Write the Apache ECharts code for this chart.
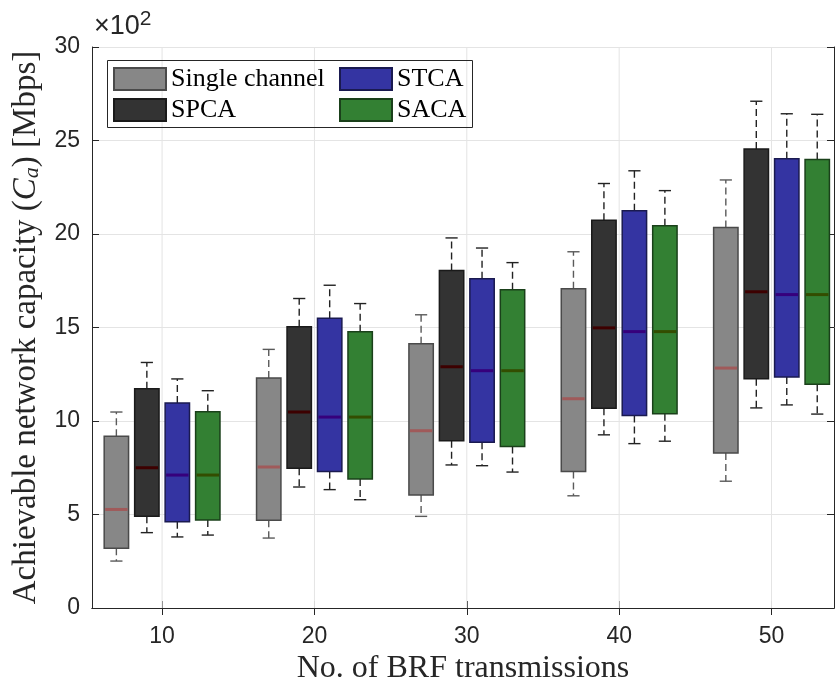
<!DOCTYPE html>
<html>
<head>
<meta charset="utf-8">
<script src="https://cdn.jsdelivr.net/npm/echarts@6/dist/echarts.min.js"></script>
<style>html,body{margin:0;padding:0;background:#fff}#c{width:835px;height:684px}</style>
</head>
<body>
<div id="c"></div>
<script>
// ---- data (values in units of 10^2 Mbps) ----
const groups = [10, 20, 30, 40, 50];
const offsets = [-3, -1, 1, 3];
const seriesNames = ['Single channel', 'SPCA', 'STCA', 'SACA'];
// each row: [lowerWhisker, Q1, median, Q3, upperWhisker]
const singleChannel = [
  [2.51, 3.19, 5.27, 9.18, 10.48],
  [3.74, 4.69, 7.54, 12.30, 13.83],
  [4.90, 6.04, 9.48, 14.13, 15.68],
  [6.00, 7.30, 11.19, 17.07, 19.05],
  [6.78, 8.29, 12.83, 20.35, 22.89]
];
const spca = [
  [4.03, 4.90, 7.50, 11.73, 13.13],
  [6.47, 7.47, 10.48, 15.04, 16.55],
  [7.65, 8.95, 12.90, 18.05, 19.79],
  [9.26, 10.68, 14.98, 20.74, 22.70],
  [10.70, 12.26, 16.91, 24.54, 27.10]
];
const stca = [
  [3.80, 4.61, 7.11, 10.96, 12.25],
  [6.33, 7.30, 10.21, 15.50, 17.26],
  [7.61, 8.86, 12.69, 17.61, 19.25],
  [8.79, 10.29, 14.78, 21.25, 23.38],
  [10.86, 12.35, 16.76, 24.03, 26.43]
];
const saca = [
  [3.90, 4.70, 7.11, 10.50, 11.62],
  [5.79, 6.90, 10.21, 14.77, 16.28],
  [7.27, 8.64, 12.69, 17.02, 18.47],
  [8.92, 10.39, 14.78, 20.44, 22.32],
  [10.37, 11.97, 16.76, 23.99, 26.40]
];
const xTicks = [10, 20, 30, 40, 50];
const yTicks = [0, 5, 10, 15, 20, 25, 30];

// ---- styling ----
const styles = [
  {fill: '#878787', stroke: '#4a4a4a', median: '#a05a5a', whisker: '#5a5a5a'},
  {fill: '#333333', stroke: '#1a1a1a', median: '#3d0000', whisker: '#222222'},
  {fill: '#3434a2', stroke: '#1a1a50', median: '#36007c', whisker: '#222222'},
  {fill: '#338033', stroke: '#1a401a', median: '#334d00', whisker: '#222222'}
];
const BOX_W = 1.6, CAP_W = 0.8;
const X_MIN = 5.4, X_MAX = 54.1, Y_MIN = 0, Y_MAX = 30;
const AXIS_COLOR = '#262626';
const GRID_COLOR = '#e4e4e4';

function buildData(rows, off) {
  return rows.map((r, i) => [groups[i] + off].concat(r));
}

function makeRender(st) {
  return function (params, api) {
    const x = api.value(0);
    const lo = api.coord([x, api.value(1)]);
    const q1 = api.coord([x, api.value(2)]);
    const md = api.coord([x, api.value(3)]);
    const q3 = api.coord([x, api.value(4)]);
    const hi = api.coord([x, api.value(5)]);
    const w = api.size([BOX_W, 0])[0];
    const cw = api.size([CAP_W, 0])[0];
    const cx = q1[0];
    const whiskStyle = {stroke: st.whisker, lineWidth: 1.4, lineDash: [7, 4]};
    const capStyle = {stroke: st.whisker, lineWidth: 1.4};
    return {
      type: 'group',
      children: [
        {type: 'line', shape: {x1: cx, y1: q3[1], x2: cx, y2: hi[1]}, style: whiskStyle},
        {type: 'line', shape: {x1: cx, y1: q1[1], x2: cx, y2: lo[1]}, style: whiskStyle},
        {type: 'line', shape: {x1: cx - cw / 2, y1: hi[1], x2: cx + cw / 2, y2: hi[1]}, style: capStyle},
        {type: 'line', shape: {x1: cx - cw / 2, y1: lo[1], x2: cx + cw / 2, y2: lo[1]}, style: capStyle},
        {type: 'rect', shape: {x: cx - w / 2, y: q3[1], width: w, height: q1[1] - q3[1]},
          style: {fill: st.fill, stroke: st.stroke, lineWidth: 1.5}},
        {type: 'line', shape: {x1: cx - w / 2 + 1, y1: md[1], x2: cx + w / 2 - 1, y2: md[1]},
          style: {stroke: st.median, lineWidth: 3}}
      ]
    };
  };
}

const allData = [singleChannel, spca, stca, saca];
const boxSeries = seriesNames.map((name, k) => ({
  name: name,
  type: 'custom',
  z: 3,
  itemStyle: {color: styles[k].fill, borderColor: styles[k].stroke, borderWidth: 1.2},
  encode: {x: 0, y: [1, 2, 3, 4, 5]},
  renderItem: makeRender(styles[k]),
  data: buildData(allData[k], offsets[k])
}));

// vertical grid lines (x axis uses a non-aligned min so draw them via a series)
const vGridSeries = {
  type: 'custom',
  silent: true,
  z: 1,
  renderItem: function (params, api) {
    const x = api.value(0);
    const a = api.coord([x, Y_MIN]);
    const b = api.coord([x, Y_MAX]);
    return {type: 'line', shape: {x1: a[0], y1: a[1], x2: b[0], y2: b[1]},
      style: {stroke: GRID_COLOR, lineWidth: 1}};
  },
  data: xTicks.map(v => [v, 0])
};

const chart = echarts.init(document.getElementById('c'), null, {renderer: 'canvas'});
const serifFont = '"Liberation Serif", "DejaVu Serif", serif';
const sansFont = '"Liberation Sans", Arial, sans-serif';

chart.setOption({
  animation: false,
  backgroundColor: '#ffffff',
  grid: {left: 92, right: 1, top: 47, bottom: 76, containLabel: false, outerBoundsMode: 'none'},
  xAxis: [{
    type: 'value', min: X_MIN, max: X_MAX,
    name: 'No. of BRF transmissions', nameLocation: 'middle', nameGap: 42,
    nameTextStyle: {fontFamily: serifFont, fontSize: 32, color: AXIS_COLOR},
    axisLine: {show: true, lineStyle: {color: AXIS_COLOR, width: 1}},
    axisTick: {show: true, inside: true, length: 7, customValues: xTicks, lineStyle: {color: AXIS_COLOR}},
    axisLabel: {customValues: xTicks, fontFamily: sansFont, fontSize: 23, color: AXIS_COLOR, margin: 17},
    splitLine: {show: false}
  }, {
    type: 'value', min: X_MIN, max: X_MAX, position: 'top',
    axisLine: {show: true, lineStyle: {color: AXIS_COLOR, width: 1}},
    axisTick: {show: true, inside: true, length: 7, customValues: xTicks, lineStyle: {color: AXIS_COLOR}},
    axisLabel: {show: false}, splitLine: {show: false}
  }],
  yAxis: [{
    type: 'value', min: Y_MIN, max: Y_MAX, interval: 5,
    name: 'Achievable network capacity ({i|C}{s|a}) [Mbps]',
    nameLocation: 'middle', nameGap: 44, nameRotate: 90,
    nameTextStyle: {
      fontFamily: serifFont, fontSize: 33, color: AXIS_COLOR,
      rich: {
        i: {fontFamily: serifFont, fontSize: 33, fontStyle: 'italic', color: AXIS_COLOR},
        s: {fontFamily: serifFont, fontSize: 22, fontStyle: 'italic', color: AXIS_COLOR, padding: [13, 0, 0, 0]}
      }
    },
    axisLine: {show: true, lineStyle: {color: AXIS_COLOR, width: 1}},
    axisTick: {show: true, inside: true, length: 7, lineStyle: {color: AXIS_COLOR}},
    axisLabel: {fontFamily: sansFont, fontSize: 23, color: AXIS_COLOR, margin: 12},
    splitLine: {show: true, lineStyle: {color: GRID_COLOR, width: 1}}
  }, {
    type: 'value', min: Y_MIN, max: Y_MAX, interval: 5, position: 'right',
    axisLine: {show: true, lineStyle: {color: AXIS_COLOR, width: 1}},
    axisTick: {show: true, inside: true, length: 7, lineStyle: {color: AXIS_COLOR}},
    axisLabel: {show: false}, splitLine: {show: false}
  }],
  legend: [{
    data: ['Single channel', 'SPCA'],
    orient: 'vertical', left: 113, top: 66, padding: 0,
    itemWidth: 52, itemHeight: 22, itemGap: 5, icon: 'rect',
    textStyle: {fontFamily: serifFont, fontSize: 26, color: '#000'},
    selectedMode: false
  }, {
    data: ['STCA', 'SACA'],
    orient: 'vertical', left: 339, top: 66, padding: 0,
    itemWidth: 52, itemHeight: 22, itemGap: 5, icon: 'rect',
    textStyle: {fontFamily: serifFont, fontSize: 26, color: '#000'},
    selectedMode: false
  }],
  graphic: [{
    type: 'rect', left: 107, top: 60, z: 10,
    shape: {width: 365, height: 67},
    style: {fill: 'rgba(255,255,255,0)', stroke: '#262626', lineWidth: 1}
  }, {
    type: 'rect', left: 107, top: 60, z: -1,
    shape: {width: 365, height: 67},
    style: {fill: '#ffffff'}
  }, {
    type: 'text', left: 94, top: 9,
    style: {
      text: '{a|×10}{b|2}',
      rich: {
        a: {fontFamily: sansFont, fontSize: 27, fill: AXIS_COLOR},
        b: {fontFamily: sansFont, fontSize: 21, fill: AXIS_COLOR, padding: [0, 0, 15, 0]}
      }
    }
  }],
  series: [vGridSeries].concat(boxSeries)
});
</script>
</body>
</html>
